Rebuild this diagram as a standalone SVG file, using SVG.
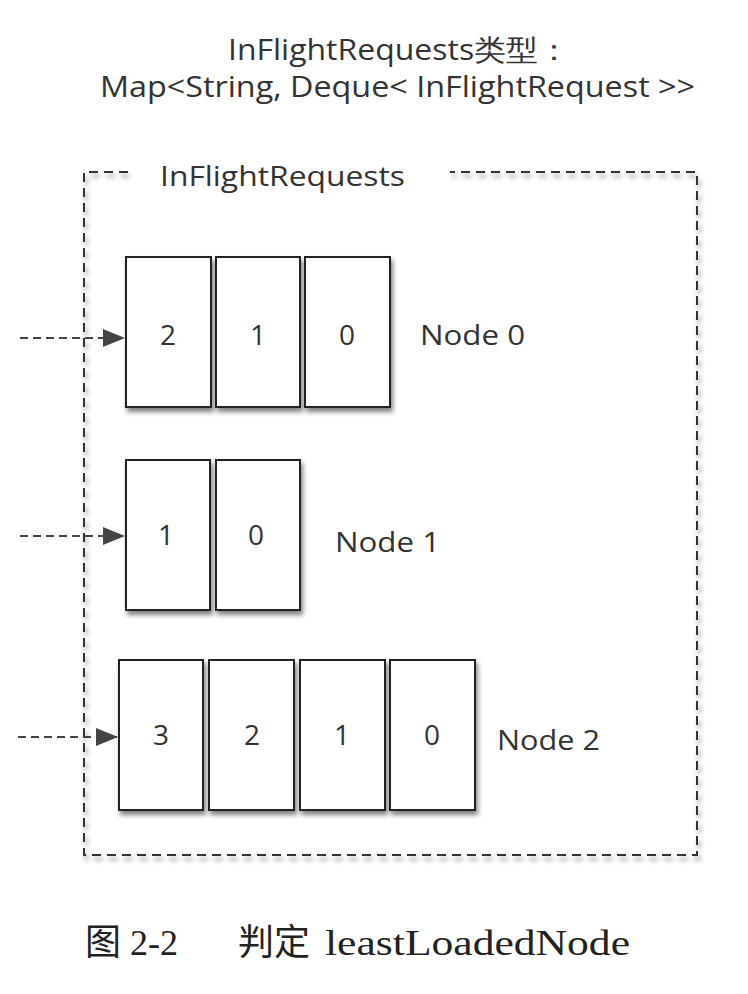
<svg xmlns="http://www.w3.org/2000/svg" width="748" height="994" viewBox="0 0 748 994">
<defs>
<style>
.t{font-family:"Open Sans","Liberation Sans",sans-serif;fill:#333;}
.box{fill:#fff;stroke:#222;stroke-width:2;}
.dash{fill:none;stroke:#333;stroke-width:2;stroke-dasharray:9 6;}
.conn{stroke:#444;stroke-width:2;stroke-dasharray:8 5;fill:none;}
.cap{font-family:"Liberation Serif","Noto Sans CJK SC",serif;fill:#222;font-size:36px;}
</style>
<filter id="sh" x="-10%" y="-10%" width="130%" height="130%">
<feGaussianBlur in="SourceAlpha" stdDeviation="2.5"/>
<feOffset dx="2" dy="4" result="b"/>
<feComponentTransfer><feFuncA type="linear" slope="0.5"/></feComponentTransfer>
<feMerge><feMergeNode/><feMergeNode in="SourceGraphic"/></feMerge>
</filter>
<marker id="ah" markerWidth="22" markerHeight="18" refX="21" refY="9" orient="auto" markerUnits="userSpaceOnUse" viewBox="0 0 22 18">
<path d="M0,0 L22,9 L0,18 z" fill="#444"/>
</marker>
</defs>
<rect width="748" height="994" fill="#fff"/>
<g id="title">
<text class="t" x="228" y="60" font-size="29" textLength="342" lengthAdjust="spacingAndGlyphs" font-family="'Open Sans','Noto Sans CJK SC',sans-serif">InFlightRequests类型：</text>
<text class="t" x="100" y="97" font-size="29" textLength="595" lengthAdjust="spacingAndGlyphs">Map&lt;String, Deque&lt; InFlightRequest &gt;&gt;</text>
</g>
<g id="container" filter="url(#sh)">
<path class="dash" d="M128,172 L84,172 L84,855 L697,855 L697,172 L450,172"/>
</g>
<text class="t" x="160" y="186" font-size="28" textLength="245" lengthAdjust="spacingAndGlyphs">InFlightRequests</text>
<g id="node0" filter="url(#sh)">
<rect class="box" x="126" y="257" width="85" height="150"/>
<rect class="box" x="216" y="257" width="84" height="150"/>
<rect class="box" x="305" y="257" width="85" height="150"/>
</g>
<g id="node0-text" class="t" font-size="28" text-anchor="middle">
<text x="168" y="345">2</text><text x="258" y="345">1</text><text x="347" y="345">0</text>
<text x="420" y="345" text-anchor="start" textLength="105" lengthAdjust="spacingAndGlyphs">Node 0</text>
</g>
<g id="node1" filter="url(#sh)">
<rect class="box" x="126" y="460" width="84" height="150"/>
<rect class="box" x="216" y="460" width="84" height="150"/>
</g>
<g id="node1-text" class="t" font-size="28" text-anchor="middle">
<text x="166" y="545">1</text><text x="256" y="545">0</text>
<text x="335" y="552" text-anchor="start" textLength="105" lengthAdjust="spacingAndGlyphs">Node 1</text>
</g>
<g id="node2" filter="url(#sh)">
<rect class="box" x="119" y="660" width="84" height="150"/>
<rect class="box" x="209" y="660" width="85" height="150"/>
<rect class="box" x="300" y="660" width="85" height="150"/>
<rect class="box" x="390" y="660" width="85" height="150"/>
</g>
<g id="node2-text" class="t" font-size="28" text-anchor="middle">
<text x="161" y="745">3</text><text x="252" y="745">2</text><text x="342" y="745">1</text><text x="432" y="745">0</text>
<text x="497" y="750" text-anchor="start" textLength="103" lengthAdjust="spacingAndGlyphs">Node 2</text>
</g>
<g id="connectors">
<path class="conn" d="M20,338 L124,338" marker-end="url(#ah)"/>
<path class="conn" d="M20,536 L124,536" marker-end="url(#ah)"/>
<path class="conn" d="M18,737 L117,737" marker-end="url(#ah)"/>
</g>
<g id="caption" class="cap">
<text x="85" y="955">图 2-2</text>
<text x="238" y="955">判定</text>
<text x="325" y="955" textLength="305" lengthAdjust="spacingAndGlyphs">leastLoadedNode</text>
</g>
</svg>
